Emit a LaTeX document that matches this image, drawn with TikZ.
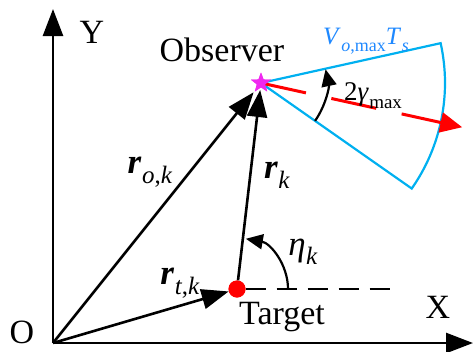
\documentclass[tikz,border=0pt]{standalone}
\usepackage{fontspec}
\setmainfont{Liberation Serif}
\usetikzlibrary{arrows.meta,shapes.geometric}
\definecolor{skyb}{RGB}{0,176,240}
\definecolor{txtblue}{RGB}{30,136,255}
\definecolor{magstar}{RGB}{240,40,240}
\newcommand\mysub[2]{\raisebox{-#1}{\fontsize{#2}{#2}\selectfont}}
\newcommand\lowsub[3]{\kern0.5pt\raisebox{-#1}{\fontsize{#2}{#2}\selectfont #3}}
\begin{document}
\begin{tikzpicture}[x=1pt,y=-1pt,
  vec/.style={line width=2.6pt, -{Triangle[length=27pt,width=20pt]}},
  big/.style={font=\fontsize{34}{34}\selectfont, inner sep=0},
  mlbl/.style={font=\fontsize{35}{35}\selectfont, inner sep=0},
  angarr/.style={line width=2.2pt, -{Triangle[length=17pt,width=15pt]}},
  obsstar/.style={star, star points=5, star point ratio=2.4, fill=magstar, minimum size=21pt, inner sep=0},
  tgtdot/.style={circle, fill=red, minimum size=17pt, inner sep=0}]
\useasboundingbox (0,0) rectangle (473,351);
\coordinate (O) at (53,343);
\coordinate (Xe) at (473,343);
\coordinate (Ye) at (53,9);
\node[tgtdot] (T) at (237,289) {};
\node[obsstar] (S) at (261,83) {};
\coordinate (De) at (395,289);
% sector
\draw[skyb, line width=2.2pt] (S.center) -- ++(-12.5:184) coordinate (SU)
  arc[start angle=-12.5, end angle=35, radius=184] coordinate (SL) -- (S.center);
% red heading
\draw[red, line width=3pt, dash pattern=on 46pt off 26pt, -{Triangle[length=22pt,width=20pt]}] (S.center) -- ++(12.4:206) coordinate (H);
% axes
\draw[vec] (O) -- (Xe);
\draw[vec] (O) -- (Ye);
% vectors
\draw[vec] (O) -- (T);
\draw[vec, shorten >=2pt] (O) -- (S);
\draw[vec, shorten >=2pt] (T) -- (S);
\draw[line width=2.6pt, dash pattern=on 20pt off 11pt] (T) -- (De);
% angles
\draw[angarr] (T.center) ++(0:51) arc[start angle=0, end angle=-80, radius=51];
\draw[angarr] (S.center) ++(35:66) arc[start angle=35, end angle=-12, radius=66];
\node[obsstar] at (S) {};
\node[tgtdot] at (T) {};
% labels
\node[big] (lY) at (92,32) {Y};
\node[big] (lO) at (22,332) {O};
\node[big] (lX) at (438,307) {X};
\node[big] (lObs) at (222,50) {Observer};
\node[big] (lT) at (282,317) {Target};
\node[mlbl] (lro) at (150,172) {\textbf{\textit{r}}\lowsub{0.28em}{25}{\textit{o},\textit{k}}};
\node[mlbl] (lrt) at (180,283) {\textbf{\textit{r}}\lowsub{0.28em}{25}{\textit{t},\textit{k}}};
\node[mlbl] (lrk) at (277,175) {\textbf{\textit{r}}\lowsub{0.28em}{25}{\textit{k}}};
\node[mlbl] (leta) at (303,252) {\textit{η}\lowsub{0.25em}{25}{\textit{k}}};
\node[font=\fontsize{27}{27}\selectfont, inner sep=0] (lgam) at (373,96) {2\textit{γ}\lowsub{0.3em}{19}{max}};
\node[font=\fontsize{25}{25}\selectfont, inner sep=0, text=txtblue] (lV) at (366,41) {\textit{V}\lowsub{0.3em}{18}{\textit{o},max}\textit{T}\lowsub{0.3em}{18}{\textit{s}}};
\end{tikzpicture}
\end{document}
